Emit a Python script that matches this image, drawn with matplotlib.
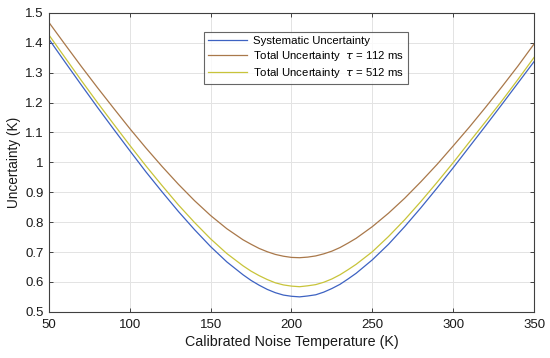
import matplotlib
matplotlib.use("Agg")
import matplotlib.pyplot as plt

# Calibrated noise temperature (K)
temps = [50, 60, 70, 80, 90, 100, 110, 120, 130, 140, 150, 160, 170, 175, 180, 185, 190, 195,
         200, 205, 210, 215, 220, 225, 230, 235, 240, 250, 260, 270, 280, 290, 300, 310, 320,
         330, 340, 350]

# Uncertainty (K)
systematic = [1.412, 1.335, 1.259, 1.184, 1.111, 1.039, 0.968, 0.901, 0.836, 0.775, 0.718,
              0.667, 0.624, 0.605, 0.589, 0.575, 0.564, 0.556, 0.552, 0.550, 0.553, 0.557,
              0.566, 0.578, 0.592, 0.610, 0.629, 0.674, 0.726, 0.785, 0.848, 0.914, 0.982,
              1.052, 1.122, 1.193, 1.265, 1.337]
total_112 = [1.468, 1.394, 1.321, 1.250, 1.181, 1.113, 1.048, 0.986, 0.927, 0.872, 0.822,
             0.778, 0.741, 0.726, 0.712, 0.701, 0.692, 0.686, 0.682, 0.681, 0.683, 0.687,
             0.694, 0.703, 0.715, 0.730, 0.746, 0.785, 0.830, 0.880, 0.935, 0.993, 1.055,
             1.118, 1.184, 1.252, 1.322, 1.396]
total_512 = [1.426, 1.350, 1.274, 1.200, 1.128, 1.057, 0.988, 0.922, 0.858, 0.799, 0.744,
             0.695, 0.654, 0.636, 0.621, 0.608, 0.597, 0.590, 0.586, 0.584, 0.587, 0.591,
             0.599, 0.610, 0.624, 0.641, 0.659, 0.701, 0.752, 0.808, 0.869, 0.933, 0.999,
             1.068, 1.136, 1.205, 1.277, 1.351]

labels = ["Systematic Uncertainty",
          "Total Uncertainty  $\\tau$ = 112 ms",
          "Total Uncertainty  $\\tau$ = 512 ms"]
colors = ["#3d62c2", "#a9784a", "#c8c43a"]

plt.rcParams['font.family'] = ['Liberation Sans', 'DejaVu Sans']
plt.rcParams['mathtext.fontset'] = 'dejavusans'

fig = plt.figure(figsize=(5.5, 3.58), dpi=100)
ax = fig.add_axes([0.089, 0.129, 0.882, 0.835])

for ys, lab, c in zip([systematic, total_112, total_512], labels, colors):
    ax.plot(temps, ys, color=c, lw=0.9, label=lab)

ax.set_xlim(50, 350)
ax.set_ylim(0.5, 1.5)
ax.set_xticks([50, 100, 150, 200, 250, 300, 350])
ax.set_yticks([0.5, 0.6, 0.7, 0.8, 0.9, 1.0, 1.1, 1.2, 1.3, 1.4, 1.5])
ax.set_yticklabels(["0.5", "0.6", "0.7", "0.8", "0.9", "1", "1.1", "1.2", "1.3", "1.4", "1.5"])
ax.grid(True, color="#e3e3e3", lw=0.7)
ax.set_axisbelow(True)
ax.tick_params(direction="in", top=True, right=True, length=3, width=0.7,
               color="#404040", labelsize=9.5, labelcolor="#1a1a1a")
ax.tick_params(axis="y", pad=4)
ax.tick_params(axis="x", pad=5)
for s in ax.spines.values():
    s.set_color("#404040")
    s.set_linewidth(0.8)

ax.set_xlabel("Calibrated Noise Temperature (K)", fontsize=10.3, color="#1a1a1a", labelpad=3)
ax.set_ylabel("Uncertainty (K)", fontsize=9.8, color="#1a1a1a", labelpad=3)

leg = ax.legend(loc="upper left", bbox_to_anchor=(0.371, 0.911), bbox_transform=fig.transFigure,
                borderaxespad=0, fontsize=8.2, frameon=True, fancybox=False,
                handlelength=3.4, handletextpad=0.5, labelspacing=0.25, borderpad=0.38)
leg.get_frame().set_edgecolor("#404040")
leg.get_frame().set_linewidth(0.8)

fig.savefig("out.png", dpi=100)
